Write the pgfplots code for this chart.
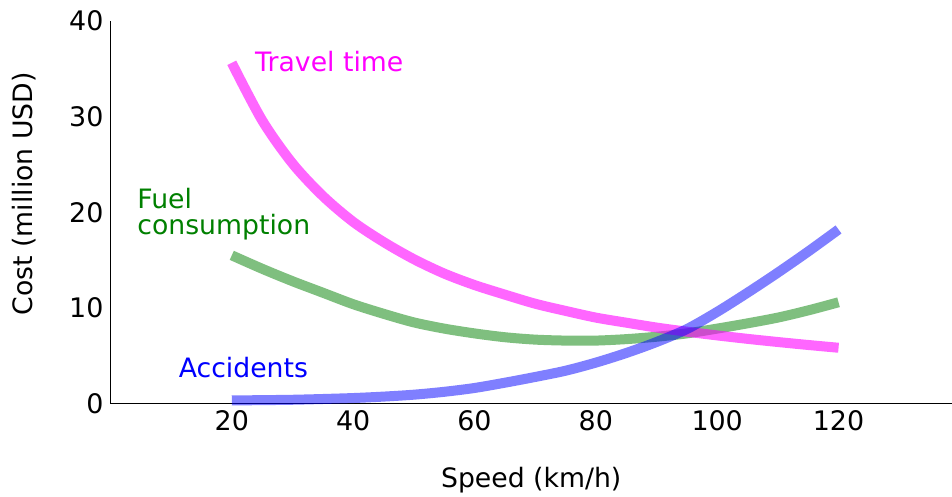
\documentclass[border=0pt]{standalone}
\usepackage{fontspec}
\setmainfont{DejaVu Sans}
\usepackage{pgfplots}
\pgfplotsset{compat=1.18}

\definecolor{mmag}{RGB}{255,0,255}
\definecolor{mgreen}{RGB}{0,128,0}
\definecolor{mblue}{RGB}{0,0,255}

\pgfplotstableread{
v    travel fuel  acc
20   35.6   15.5  0.35
25   29.6   14.1  0.38
30   25.1   12.8  0.42
35   21.7   11.6  0.50
40   19.0   10.4  0.60
45   16.9   9.4   0.75
50   15.1   8.5   0.95
55   13.6   7.85  1.25
60   12.4   7.35  1.65
65   11.4   6.95  2.20
70   10.45  6.7   2.80
75   9.7    6.6   3.45
80   9.0    6.6   4.30
85   8.47   6.75  5.30
90   7.96   7.0   6.45
95   7.53   7.35  7.80
100  7.14   7.85  9.60
105  6.78   8.4   11.6
110  6.45   9.0   13.7
115  6.14   9.75  15.9
120  5.85   10.6  18.2
}\costs

\begin{document}
\begin{tikzpicture}
\begin{axis}[
    scale only axis,
    width=421bp, height=191.65bp,
    xmin=0, xmax=138.7,
    ymin=0, ymax=40,
    axis x line*=bottom,
    axis y line*=left,
    axis line style={line width=0.6pt},
    xtick={20,40,...,120},
    ytick={0,10,...,40},
    major tick length=0pt,
    tick label style={font=\fontsize{13.5}{16}\selectfont},
    /pgf/number format/assume math mode=true,
    xlabel={Speed (km/h)},
    ylabel={Cost (million USD)},
    label style={font=\fontsize{13.4}{16}\selectfont},
    xlabel style={at={(axis description cs:0.5,0)}, anchor=center, yshift=-38bp},
    ylabel style={at={(axis description cs:-0.1027,0.548)}, anchor=center},
    every axis plot/.append style={line width=5bp, smooth},
    clip=false,
]
\addplot[color=mgreen, opacity=0.5] table[x=v, y=fuel] {\costs};
\addplot[color=mmag, opacity=0.6] table[x=v, y=travel] {\costs};
\addplot[color=mblue, opacity=0.5] table[x=v, y=acc] {\costs};

\node[anchor=base west, inner sep=0, text=mmag, font=\fontsize{13.4}{16}\selectfont] at (axis cs:23.8,34.68) {Travel time};
\node[anchor=base west, inner sep=0, text=mgreen, font=\fontsize{13.4}{16}\selectfont] at (axis cs:4.37,20.35) {Fuel};
\node[anchor=base west, inner sep=0, text=mgreen, font=\fontsize{13.4}{16}\selectfont] at (axis cs:4.37,17.64) {consumption};
\node[anchor=base west, inner sep=0, text=mblue, font=\fontsize{13.4}{16}\selectfont] at (axis cs:11.2,2.79) {Accidents};

\coordinate (bl) at (rel axis cs:0,0);
\coordinate (tr) at (rel axis cs:1,1);
\end{axis}
\pgfresetboundingbox
\path[use as bounding box] ([xshift=-55.25bp, yshift=-46.5bp]bl) rectangle ([yshift=10.35bp]tr);
\end{tikzpicture}
\end{document}
